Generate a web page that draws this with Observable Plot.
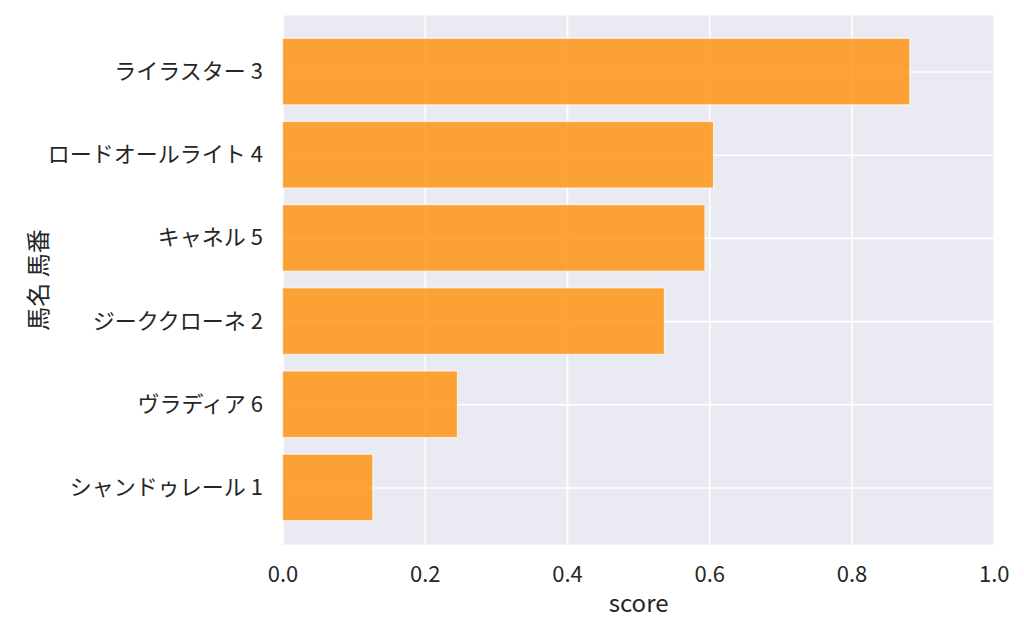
<!DOCTYPE html>
<html>
<head>
<meta charset="utf-8">
<script src="https://cdn.jsdelivr.net/npm/d3@7"></script>
<script src="https://cdn.jsdelivr.net/npm/@observablehq/plot@0.6"></script>
<style>
  html, body { margin: 0; padding: 0; background: white; }
</style>
</head>
<body>
<div id="chart"></div>
<script>
const horses = ["ライラスター 3", "ロードオールライト 4", "キャネル 5", "ジーククローネ 2", "ヴラディア 6", "シャンドゥレール 1"];
const scores = [0.882, 0.606, 0.594, 0.537, 0.246, 0.127];
const xTicks = [0, 0.2, 0.4, 0.6, 0.8, 1.0];
const xLabel = "score";
const yLabel = "馬名 馬番";

const data = horses.map((h, i) => ({name: h, score: scores[i]}));
const font = "'Noto Sans CJK JP', 'Noto Sans', sans-serif";

const chart = Plot.plot({
  width: 1024,
  height: 634,
  marginLeft: 282.5,
  marginRight: 30.3,
  marginTop: 15,
  marginBottom: 90,
  style: {fontFamily: font, fontSize: "22px", color: "#262626", background: "white"},
  x: {domain: [0, 1]},
  y: {domain: horses, paddingInner: 0.2, paddingOuter: 0.28, round: false},
  marks: [
    Plot.frame({fill: "#eaeaf2", stroke: "none"}),
    Plot.gridX(xTicks, {stroke: "white", strokeOpacity: 1, strokeWidth: 1.6}),
    Plot.gridY({stroke: "white", strokeOpacity: 1, strokeWidth: 1.6}),
    Plot.barX(data, {x: "score", y: "name", fill: "#ff8c00", fillOpacity: 0.78, stroke: "white", strokeOpacity: 0.7, strokeWidth: 1.2}),
    Plot.axisX(xTicks, {tickSize: 0, tickPadding: 22, fontSize: 22, tickFormat: d3.format(".1f"), label: null, fill: "#262626"}),
    Plot.axisY({tickSize: 0, tickPadding: 20, fontSize: 22, label: null, fill: "#262626"}),
    Plot.text([xLabel], {frameAnchor: "bottom", dy: 67, fontSize: 24, fill: "#262626", fontFamily: font}),
    Plot.text([yLabel], {frameAnchor: "left", textAnchor: "middle", dx: -244, rotate: -90, fontSize: 24, fill: "#262626", fontFamily: font})
  ]
});
document.getElementById("chart").appendChild(chart);
</script>
</body>
</html>
